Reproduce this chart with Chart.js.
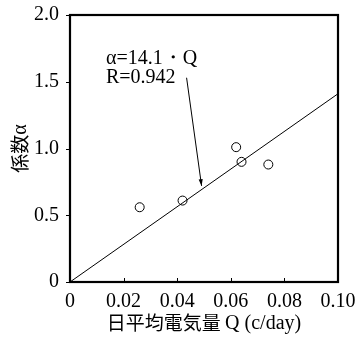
<!DOCTYPE html>
<html>
<head>
<meta charset="utf-8">
<script src="https://cdn.jsdelivr.net/npm/chart.js@4.4.1/dist/chart.umd.min.js"></script>
<style>
  html, body { margin: 0; padding: 0; background: #fff; }
  canvas { display: block; }
</style>
</head>
<body>
<canvas id="chart-alpha" width="361" height="338"></canvas>
<script>
// measured points (Q, alpha)
const charge = [0.026, 0.042, 0.062, 0.064, 0.074];
const alpha = [0.56, 0.61, 1.01, 0.90, 0.88];
// regression line alpha = 14.1 * Q
const fitQ = [0, 0.10];
const fitAlpha = [0, 1.41];
const xTicks = [0, 0.02, 0.04, 0.06, 0.08, 0.10];
const yTicks = [0, 0.5, 1.0, 1.5, 2.0];
const noteLines = ["α=14.1・Q", "R=0.942"];
const arrowFrom = [0.0435, 1.53];
const arrowTo = [0.0491, 0.72];

const serif = "'Liberation Serif', 'DejaVu Serif', serif";
const gothic = "'Noto Sans CJK JP', 'Noto Sans', sans-serif";

const frame = {
  id: "frame",
  afterDraw(chart) {
    const ctx = chart.ctx;
    const a = chart.chartArea;
    const xs = chart.scales.x, ys = chart.scales.y;
    ctx.save();
    ctx.strokeStyle = "#000";
    // ticks on x (inward), y (outward)
    ctx.lineWidth = 1;
    ctx.beginPath();
    xTicks.forEach(v => {
      const px = Math.round(xs.getPixelForValue(v)) + 0.5;
      ctx.moveTo(px, a.bottom);
      ctx.lineTo(px, a.bottom - 4);
    });
    yTicks.forEach(v => {
      const py = Math.round(ys.getPixelForValue(v)) + 0.5;
      ctx.moveTo(a.left, py);
      ctx.lineTo(a.left - 4, py);
    });
    ctx.stroke();
    ctx.lineWidth = 2.2;
    ctx.strokeRect(a.left, a.top, a.right - a.left, a.bottom - a.top);

    // note text
    ctx.fillStyle = "#000";
    ctx.font = "20px " + serif;
    ctx.textBaseline = "alphabetic";
    ctx.fillText(noteLines[0], 106, 64);
    ctx.fillText(noteLines[1], 106, 83);

    // arrow
    const x1 = xs.getPixelForValue(arrowFrom[0]), y1 = ys.getPixelForValue(arrowFrom[1]);
    const x2 = xs.getPixelForValue(arrowTo[0]), y2 = ys.getPixelForValue(arrowTo[1]);
    ctx.lineWidth = 1;
    ctx.beginPath();
    ctx.moveTo(x1, y1);
    ctx.lineTo(x2, y2);
    ctx.stroke();
    const ang = Math.atan2(y2 - y1, x2 - x1);
    ctx.beginPath();
    ctx.moveTo(x2, y2);
    ctx.lineTo(x2 - 7 * Math.cos(ang - 0.3), y2 - 7 * Math.sin(ang - 0.3));
    ctx.lineTo(x2 - 7 * Math.cos(ang + 0.3), y2 - 7 * Math.sin(ang + 0.3));
    ctx.closePath();
    ctx.fill();

    // x axis title: CJK part + serif part
    ctx.textBaseline = "middle";
    ctx.font = "19px " + gothic;
    const t1 = "日平均電気量 ";
    const t2 = "Q (c/day)";
    const w1 = ctx.measureText(t1).width;
    ctx.font = "20px " + serif;
    const w2 = ctx.measureText(t2).width;
    const cx = (a.left + a.right) / 2;
    const sx = cx - (w1 + w2) / 2;
    ctx.font = "19px " + gothic;
    ctx.fillText(t1, sx, 323);
    ctx.font = "20px " + serif;
    ctx.fillText(t2, sx + w1, 324);

    // y axis title rotated
    ctx.translate(20, (a.top + a.bottom) / 2);
    ctx.rotate(-Math.PI / 2);
    ctx.font = "19px " + gothic;
    const s1 = "係数";
    const ws1 = ctx.measureText(s1).width;
    ctx.font = "20px " + serif;
    const s2 = "α";
    const ws2 = ctx.measureText(s2).width;
    ctx.font = "19px " + gothic;
    ctx.fillText(s1, -(ws1 + ws2) / 2, 0);
    ctx.font = "20px " + serif;
    ctx.fillText(s2, -(ws1 + ws2) / 2 + ws1, 1);
    ctx.restore();
  }
};

new Chart(document.getElementById("chart-alpha"), {
  type: "scatter",
  data: {
    datasets: [
      {
        label: "fit",
        type: "line",
        data: fitQ.map((q, i) => ({ x: q, y: fitAlpha[i] })),
        borderColor: "#000",
        borderWidth: 1,
        pointRadius: 0,
        fill: false,
      },
      {
        label: "data",
        data: charge.map((q, i) => ({ x: q, y: alpha[i] })),
        pointStyle: "circle",
        pointRadius: 4.5,
        borderColor: "#000",
        borderWidth: 1,
        backgroundColor: "rgba(255,255,255,0)",
      },
    ],
  },
  options: {
    responsive: false,
    animation: false,
    maintainAspectRatio: false,
    layout: { padding: { left: 0, right: 23, top: 14, bottom: 0 } },
    plugins: {
      legend: { display: false },
      tooltip: { enabled: false },
    },
    scales: {
      x: {
        type: "linear",
        min: 0,
        max: 0.10,
        afterBuildTicks: s => { s.ticks = xTicks.map(v => ({ value: v })); },
        afterFit: s => { s.height = 56; },
        grid: { display: false },
        border: { display: false },
        ticks: {
          color: "#000",
          autoSkip: false,
          font: { family: serif, size: 20 },
          padding: 0,
          maxRotation: 0,
          callback: v => v === 0 ? "0" : v.toFixed(2),
        },
      },
      y: {
        type: "linear",
        min: 0,
        max: 2.0,
        afterBuildTicks: s => { s.ticks = yTicks.map(v => ({ value: v })); },
        afterFit: s => { s.width = 70; },
        grid: { display: false },
        border: { display: false },
        ticks: {
          color: "#000",
          autoSkip: false,
          font: { family: serif, size: 20 },
          padding: 3,
          callback: v => v === 0 ? "0" : v.toFixed(1),
        },
      },
    },
  },
  plugins: [frame],
});
</script>
</body>
</html>
